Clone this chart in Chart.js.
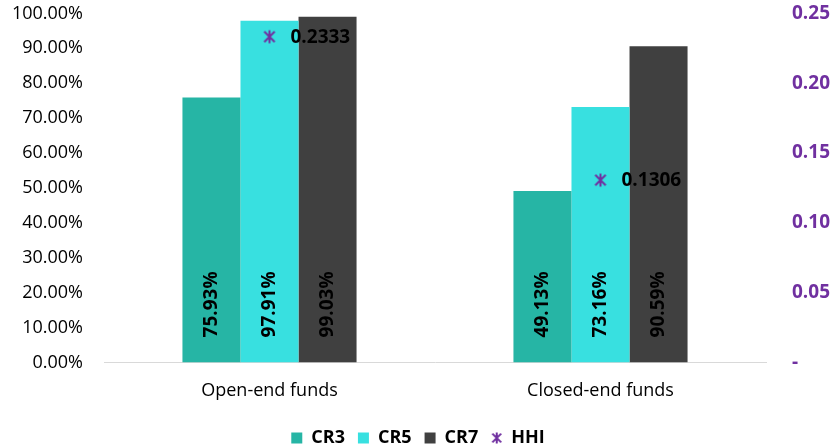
<!DOCTYPE html>
<html>
<head>
<meta charset="utf-8">
<script src="https://cdn.jsdelivr.net/npm/chart.js@4"></script>
<style>
  body { margin: 0; background: #fff; }
  #wrap { width: 836px; height: 448px; }
</style>
</head>
<body>
<div id="wrap"><canvas id="crChart"></canvas></div>
<script>
// Chart data
const categories = ["Open-end funds", "Closed-end funds"];
const cr3 = [75.93, 49.13];
const cr5 = [97.91, 73.16];
const cr7 = [99.03, 90.59];
const hhi = [0.2333, 0.1306];
const leftTicks = [0, 10, 20, 30, 40, 50, 60, 70, 80, 90, 100];
const rightTicks = [0, 0.05, 0.10, 0.15, 0.20, 0.25];

const purple = "#7030A0";
const fontFamily = "'Open Sans', 'Liberation Sans', sans-serif";

// asterisk-like marker (X with a vertical stroke)
function makeMarker(size) {
    const c = document.createElement("canvas");
    c.width = size; c.height = size;
    const g = c.getContext("2d");
    g.strokeStyle = purple;
    g.lineWidth = 2;
    const m = size / 2, r = size / 2 - 1.5;
    g.beginPath();
    g.moveTo(m - r * 0.8, m - r * 0.8); g.lineTo(m + r * 0.8, m + r * 0.8);
    g.moveTo(m + r * 0.8, m - r * 0.8); g.lineTo(m - r * 0.8, m + r * 0.8);
    g.moveTo(m, m - r); g.lineTo(m, m + r);
    g.stroke();
    return c;
}
const marker = makeMarker(16);
const legendMarker = makeMarker(14);

// Value labels inside bars (rotated) and HHI labels
const labelPlugin = {
    id: "labelPlugin",
    afterDatasetsDraw(chart) {
        const ctx = chart.ctx;
        ctx.save();
        ctx.fillStyle = "#000";
        ctx.font = "bold 19px " + fontFamily;
        for (let d = 0; d < 3; d++) {
            const meta = chart.getDatasetMeta(d);
            meta.data.forEach((bar, i) => {
                const v = chart.data.datasets[d].data[i];
                ctx.save();
                ctx.translate(bar.x, chart.chartArea.bottom - 25);
                ctx.rotate(-Math.PI / 2);
                ctx.textAlign = "left";
                ctx.textBaseline = "middle";
                ctx.fillText(v.toFixed(2) + "%", 0, 0);
                ctx.restore();
            });
        }
        const lineMeta = chart.getDatasetMeta(3);
        ctx.font = "bold 19px " + fontFamily;
        ctx.textAlign = "left";
        ctx.textBaseline = "middle";
        lineMeta.data.forEach((pt, i) => {
            ctx.fillText(hhi[i].toFixed(4), pt.x + 21, pt.y + 1);
        });
        ctx.restore();
    }
};

// legend: keep horizontal spacing, trim the vertical padding
const legendFit = {
    id: "legendFit",
    beforeInit(chart) {
        const orig = chart.legend.fit;
        chart.legend.fit = function () {
            orig.bind(chart.legend)();
            this.height -= 9;
        };
    }
};

const ctx = document.getElementById("crChart").getContext("2d");
const chart = new Chart(ctx, {
    type: "bar",
    data: {
        labels: categories,
        datasets: [
            { label: "CR3", data: cr3, backgroundColor: "#26B5A5", yAxisID: "y", order: 2 },
            { label: "CR5", data: cr5, backgroundColor: "#38E0E0", yAxisID: "y", order: 2 },
            { label: "CR7", data: cr7, backgroundColor: "#404040", yAxisID: "y", order: 2 },
            {
                label: "HHI", type: "line", data: hhi, yAxisID: "y1", order: 1,
                showLine: false, pointStyle: marker, pointRadius: 8,
                borderColor: purple, backgroundColor: purple
            }
        ]
    },
    options: {
        responsive: true,
        maintainAspectRatio: false,
        animation: false,
        layout: { autoPadding: false, padding: { top: 12, left: 4, right: 4, bottom: 0 } },
        datasets: {
            bar: { barPercentage: 1.0, categoryPercentage: 0.526 }
        },
        plugins: {
            tooltip: { enabled: false },
            legend: {
                position: "bottom",
                labels: {
                    font: { family: fontFamily, size: 18, weight: "bold" },
                    color: "#000",
                    boxWidth: 11,
                    boxHeight: 11,
                    padding: 13,
                    generateLabels(chart) {
                        return chart.data.datasets.map((ds, i) => ({
                            text: ds.label,
                            fillStyle: ds.backgroundColor,
                            strokeStyle: ds.backgroundColor,
                            lineWidth: 0,
                            pointStyle: i === 3 ? legendMarker : "rect",
                            datasetIndex: i
                        }));
                    },
                    usePointStyle: true
                }
            }
        },
        scales: {
            x: {
                afterFit(axis) { axis.height += 4; },
                grid: { display: false },
                border: { color: "#d9d9d9", width: 1 },
                ticks: { font: { family: fontFamily, size: 18 }, color: "#000", padding: 10 }
            },
            y: {
                min: 0, max: 100,
                afterBuildTicks(axis) { axis.ticks = leftTicks.map(v => ({ value: v })); },
                afterFit(axis) { axis.width = 100; },
                grid: { display: false, drawTicks: true, tickLength: 19 },
                border: { display: false },
                ticks: {
                    font: { family: fontFamily, size: 18 }, color: "#000", padding: 2,
                    callback: v => v.toFixed(2) + "%"
                }
            },
            y1: {
                position: "right",
                min: 0, max: 0.25,
                afterBuildTicks(axis) { axis.ticks = rightTicks.map(v => ({ value: v })); },
                afterFit(axis) { axis.width = 66; },
                grid: { display: false, drawTicks: true, tickLength: 24 },
                border: { display: false },
                ticks: {
                    font: { family: fontFamily, size: 19, weight: "bold" }, color: purple, padding: 2,
                    callback: v => v === 0 ? "-" : v.toFixed(2)
                }
            }
        }
    },
    plugins: [labelPlugin, legendFit]
});
</script>
</body>
</html>
